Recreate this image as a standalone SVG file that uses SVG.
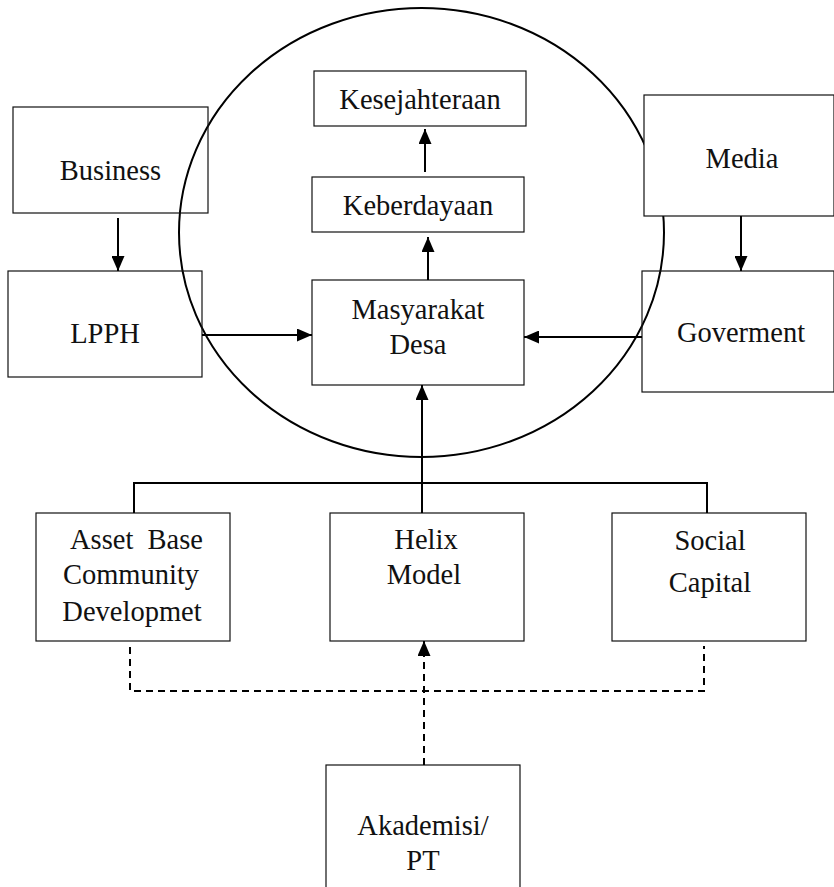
<svg xmlns="http://www.w3.org/2000/svg" width="834" height="887" viewBox="0 0 834 887">
<style>
.box{fill:none;stroke:#111;stroke-width:1.2}
.wbox{fill:#fff;stroke:#111;stroke-width:1.2}
.t{font-family:'Liberation Serif','Times New Roman',Tinos,'DejaVu Serif',serif;font-size:28.5px;fill:#111;text-anchor:middle}
.c{fill:none;stroke:#000;stroke-width:2}
.d{fill:none;stroke:#000;stroke-width:2;stroke-dasharray:7,5}
</style>
<defs>
<marker id="ah" markerUnits="userSpaceOnUse" markerWidth="15" markerHeight="13" viewBox="0 0 15 13" refX="15" refY="6.5" orient="auto">
<path d="M0,0 L15,6.5 L0,13 Z" fill="#000"/>
</marker>
</defs>
<rect width="834" height="887" fill="#fff"/>
<ellipse id="circle" cx="421.5" cy="232.5" rx="242.5" ry="224.5" fill="none" stroke="#000" stroke-width="2"/>
<g id="kesejahteraan"><rect class="box" x="314" y="71" width="212" height="55"/><text class="t" font-family="Liberation Serif, serif" x="420" y="109">Kesejahteraan</text></g>
<g id="keberdayaan"><rect class="box" x="312" y="177" width="212" height="55"/><text class="t" font-family="Liberation Serif, serif" x="418" y="215">Keberdayaan</text></g>
<g id="masyarakat"><rect class="box" x="312" y="280" width="212" height="105"/><text class="t" font-family="Liberation Serif, serif" x="418" y="319">Masyarakat</text><text class="t" font-family="Liberation Serif, serif" x="418" y="354">Desa</text></g>
<g id="business"><rect class="box" x="13" y="107" width="195" height="106"/><text class="t" font-family="Liberation Serif, serif" x="110.5" y="180">Business</text></g>
<g id="lpph"><rect class="box" x="8" y="271" width="194" height="106"/><text class="t" font-family="Liberation Serif, serif" x="105" y="343">LPPH</text></g>
<g id="media"><rect class="wbox" x="644" y="95" width="190" height="121"/><text class="t" font-family="Liberation Serif, serif" x="742" y="168">Media</text></g>
<g id="government"><rect class="box" x="642" y="271" width="192" height="121"/><text class="t" font-family="Liberation Serif, serif" x="741" y="342">Goverment</text></g>
<g id="abcd"><rect class="box" x="36" y="513" width="194" height="128"/><text class="t" font-family="Liberation Serif, serif" x="136.5" y="549" xml:space="preserve">Asset  Base</text><text class="t" font-family="Liberation Serif, serif" x="131" y="584">Community</text><text class="t" font-family="Liberation Serif, serif" x="132" y="621">Developmet</text></g>
<g id="helix"><rect class="box" x="330" y="513" width="194" height="128"/><text class="t" font-family="Liberation Serif, serif" x="426" y="549">Helix</text><text class="t" font-family="Liberation Serif, serif" x="424" y="584">Model</text></g>
<g id="social"><rect class="box" x="612" y="513" width="194" height="128"/><text class="t" font-family="Liberation Serif, serif" x="710" y="550">Social</text><text class="t" font-family="Liberation Serif, serif" x="710" y="592">Capital</text></g>
<g id="akademisi"><rect class="box" x="326" y="765" width="194" height="130"/><text class="t" font-family="Liberation Serif, serif" x="423" y="835">Akademisi/</text><text class="t" font-family="Liberation Serif, serif" x="423" y="870">PT</text></g>
<g id="connectors">
<line class="c" x1="118" y1="218" x2="118" y2="271" marker-end="url(#ah)"/>
<line class="c" x1="741" y1="216" x2="741" y2="271" marker-end="url(#ah)"/>
<line class="c" x1="202" y1="335" x2="312" y2="335" marker-end="url(#ah)"/>
<line class="c" x1="642" y1="337" x2="524" y2="337" marker-end="url(#ah)"/>
<line class="c" x1="425" y1="172" x2="425" y2="129" marker-end="url(#ah)"/>
<line class="c" x1="428" y1="280" x2="428" y2="237" marker-end="url(#ah)"/>
<line class="c" x1="422" y1="513" x2="422" y2="385" marker-end="url(#ah)"/>
<polyline class="c" points="134,513 134,483 707,483 707,513"/>
<polyline class="d" points="130,647 130,691 704,691 704,646"/>
<line class="d" x1="424" y1="765" x2="424" y2="641" marker-end="url(#ah)"/>
</g>
</svg>
